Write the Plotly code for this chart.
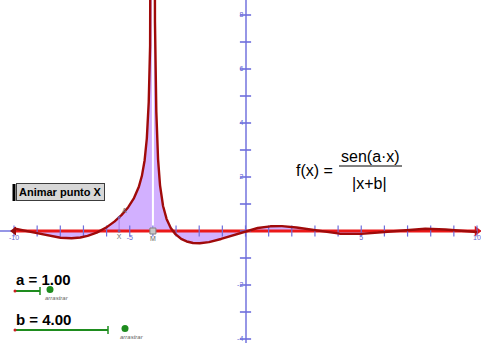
import numpy as np
import plotly.graph_objects as go

# ---- data ----
A_PARAM = 1.00
B_PARAM = 4.00
X_MIN, X_MAX = -10, 10
POINT_X = -5.46          # animated point X
POINT_M = -4.0           # asymptote point M
x_tick_vals = [-10, -5, 5, 10]
x_tick_text = ["-10", "-5", "5", "10"]
y_tick_vals = [-4, -2, 2, 4, 6, 8]
y_tick_text = ["-4", "-2", "2", "4", "6", "8"]
x_minor = list(range(-10, 11))
y_minor = list(range(-4, 9))

def f(x):
    return np.sin(A_PARAM * x) / np.abs(x + B_PARAM)

W, H = 481, 343
XR = [-245.5 / 23.15, (W - 245.5) / 23.15]
YR = [(231 - H) / 27.0, 231 / 27.0]

xs_l = np.concatenate([np.linspace(X_MIN, -B_PARAM - 0.3, 1500), -B_PARAM - np.geomspace(0.3, 0.02, 400)])
xs_r = np.concatenate([-B_PARAM + np.geomspace(0.02, 0.3, 400), np.linspace(-B_PARAM + 0.3, X_MAX, 2500)])
yl = np.clip(f(xs_l), -50, 50)
yr = np.clip(f(xs_r), -50, 50)

fig = go.Figure()
fill_col = "rgba(195,150,255,0.75)"
for xs, ys in [(xs_l, yl), (xs_r, yr)]:
    fig.add_trace(go.Scatter(x=xs, y=ys, mode="lines", fill="tozeroy", fillcolor=fill_col,
                             line=dict(width=0), hoverinfo="skip"))

# white line at M
fig.add_trace(go.Scatter(x=[POINT_M, POINT_M], y=[0, YR[1]], mode="lines",
                         line=dict(color="white", width=2), hoverinfo="skip"))

# red segment along x axis
fig.add_trace(go.Scatter(x=[X_MIN, X_MAX], y=[0, 0], mode="lines",
                         line=dict(color="rgb(235,25,25)", width=3), hoverinfo="skip"))
fig.add_trace(go.Scatter(x=[X_MAX], y=[0], mode="markers",
                         marker=dict(symbol="triangle-right", size=9, color="rgb(220,20,20)"), hoverinfo="skip"))

# axis ticks
fig.add_trace(go.Scatter(x=x_minor, y=[0] * len(x_minor), mode="markers",
                         marker=dict(symbol="line-ns", size=8, line=dict(color="rgb(110,110,220)", width=1.2)),
                         hoverinfo="skip"))
fig.add_trace(go.Scatter(x=[0] * len(y_minor), y=y_minor, mode="markers",
                         marker=dict(symbol="line-ew", size=8, line=dict(color="rgb(110,110,220)", width=1.6)),
                         hoverinfo="skip"))

# curve
curve_col = "rgb(160,10,10)"
for xs, ys in [(xs_l, yl), (xs_r, yr)]:
    fig.add_trace(go.Scatter(x=xs, y=ys, mode="lines", line=dict(color=curve_col, width=2.4), hoverinfo="skip"))

fig.add_trace(go.Scatter(x=[X_MIN], y=[0], mode="markers",
                         marker=dict(symbol="triangle-left", size=8, color="rgb(150,10,10)"), hoverinfo="skip"))

# point X and A
yA = float(f(np.array([POINT_X]))[0])
fig.add_trace(go.Scatter(x=[POINT_X, POINT_X], y=[0, yA], mode="lines",
                         line=dict(color="rgb(170,120,230)", width=1), hoverinfo="skip"))
fig.add_trace(go.Scatter(x=[POINT_X, POINT_X], y=[0, yA], mode="markers+text",
                         marker=dict(size=3, color="rgb(120,90,160)"),
                         text=["X", "A"], textposition=["bottom center", "top right"],
                         textfont=dict(size=7, color="rgb(110,110,110)"), hoverinfo="skip"))
# point M
fig.add_trace(go.Scatter(x=[POINT_M], y=[0], mode="markers+text",
                         marker=dict(symbol="square", size=6, color="rgb(200,200,200)",
                                     line=dict(color="rgb(130,130,130)", width=1)),
                         text=["M"], textposition="bottom center",
                         textfont=dict(size=7, color="rgb(100,100,100)"), hoverinfo="skip"))

axcol = "rgb(150,150,230)"
fig.update_layout(
    width=W, height=H, margin=dict(l=0, r=0, t=0, b=0),
    paper_bgcolor="white", plot_bgcolor="white", showlegend=False,
    font=dict(family="Liberation Sans, Arial, sans-serif"),
    xaxis=dict(range=XR, anchor="free", position=1 - 231 / H, showline=True, linecolor=axcol, linewidth=1.5,
               showgrid=False, zeroline=False, tickvals=x_tick_vals, ticktext=x_tick_text, ticks="",
               tickfont=dict(size=7, color="rgb(100,100,210)"), fixedrange=True, layer="below traces"),
    yaxis=dict(range=YR, anchor="free", position=245.5 / W, showline=True, linecolor=axcol, linewidth=1.5,
               showgrid=False, zeroline=False, tickvals=y_tick_vals, ticktext=y_tick_text, ticks="",
               tickfont=dict(size=7, color="rgb(100,100,210)"), fixedrange=True, layer="below traces"),
)

def px(x):
    return x / W

def py(y):
    return 1 - y / H

ann = []
# formula
ann.append(dict(x=px(314), y=py(170), text="f(x) =", font=dict(size=16, color="black")))
ann.append(dict(x=px(370.5), y=py(156), text="sen(a·x)", font=dict(size=16, color="black")))
ann.append(dict(x=px(369), y=py(183), text="|x+b|", font=dict(size=16, color="black")))
# button
ann.append(dict(x=px(60), y=py(192.5), text="<b>Animar punto X</b>", font=dict(size=11, color="black"),
                bgcolor="rgb(215,215,215)", bordercolor="rgb(60,60,60)", borderwidth=1, borderpad=2))
# sliders
ann.append(dict(x=px(14), y=py(279), xanchor="left", text="<b>a = 1.00</b>", font=dict(size=15, color="black")))
ann.append(dict(x=px(14), y=py(319), xanchor="left", text="<b>b = 4.00</b>", font=dict(size=15, color="black")))
ann.append(dict(x=px(57), y=py(298), text="<i>arrastrar</i>", font=dict(size=6, color="rgb(100,100,100)")))
ann.append(dict(x=px(132), y=py(337), text="<i>arrastrar</i>", font=dict(size=6, color="rgb(100,100,100)")))
for a in ann:
    a.update(xref="paper", yref="paper", showarrow=False)
    a.setdefault("xanchor", "center")
    a["yanchor"] = "middle"
fig.update_layout(annotations=ann)

green = "rgb(30,140,30)"
shapes = [
    dict(type="line", x0=px(339), x1=px(402), y0=py(166), y1=py(166), line=dict(color="black", width=1)),
    dict(type="line", x0=px(14), x1=px(14), y0=py(184), y1=py(201), line=dict(color="black", width=3)),
    dict(type="line", x0=px(15), x1=px(40), y0=py(291), y1=py(291), line=dict(color=green, width=2)),
    dict(type="line", x0=px(40), x1=px(40), y0=py(287), y1=py(295), line=dict(color=green, width=1.5)),
    dict(type="line", x0=px(15), x1=px(108), y0=py(330), y1=py(330), line=dict(color=green, width=2)),
    dict(type="line", x0=px(108), x1=px(108), y0=py(326), y1=py(334), line=dict(color=green, width=1.5)),
    dict(type="circle", x0=px(13.5), x1=px(16.5), y0=py(289.5), y1=py(292.5), fillcolor="rgb(200,30,30)", line=dict(width=0)),
    dict(type="circle", x0=px(13.5), x1=px(16.5), y0=py(328.5), y1=py(331.5), fillcolor="rgb(200,30,30)", line=dict(width=0)),
    dict(type="circle", x0=px(46.5), x1=px(53.5), y0=py(286), y1=py(293), fillcolor=green, line=dict(width=0)),
    dict(type="circle", x0=px(121.5), x1=px(128.5), y0=py(325), y1=py(332), fillcolor=green, line=dict(width=0)),
]
for s in shapes:
    s.update(xref="paper", yref="paper")
fig.update_layout(shapes=shapes)

fig.write_html("out.html", config={"displayModeBar": False},
               post_script="document.body.style.margin='0px';document.body.style.overflow='hidden';")
